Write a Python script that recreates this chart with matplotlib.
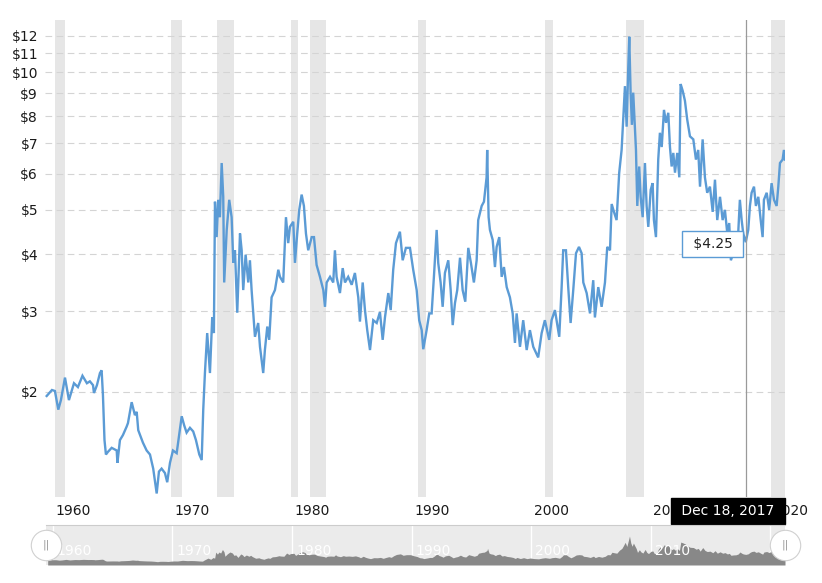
#!/usr/bin/python3
# -*- coding: utf-8 -*-
#
# precio historico del trigo (escala log) con barras de recesion y navegador
#
import matplotlib
matplotlib.use('Agg')
import matplotlib.pyplot as plt
import matplotlib.transforms as mtrans
import numpy as np

#
# datos
#
years = [1959.56, 1960.00, 1960.25, 1960.53, 1960.75, 1961.09, 1961.42, 1961.84, 1962.17, 1962.55,
         1962.92, 1963.17, 1963.43, 1963.51, 1963.76, 1964.01, 1964.15, 1964.26, 1964.39, 1964.51,
         1964.68, 1964.99, 1965.41, 1965.47, 1965.68, 1965.93, 1966.24, 1966.35, 1966.66, 1966.93,
         1967.08, 1967.21, 1967.60, 1967.91, 1968.19, 1968.46, 1968.75, 1968.94, 1969.16, 1969.44,
         1969.63, 1969.86, 1970.11, 1970.42, 1970.84, 1971.05, 1971.25, 1971.53, 1971.80, 1972.03,
         1972.31, 1972.51, 1972.64, 1972.78, 1972.97, 1973.20, 1973.39, 1973.53, 1973.62, 1973.76,
         1973.89, 1974.03, 1974.18, 1974.31, 1974.39, 1974.60, 1974.81, 1975.01, 1975.15, 1975.29,
         1975.48, 1975.71, 1975.85, 1975.98, 1976.18, 1976.40, 1976.54, 1976.68, 1976.96, 1977.23,
         1977.38, 1977.65, 1977.79, 1977.99, 1978.15, 1978.35, 1978.63, 1978.91, 1979.05, 1979.32,
         1979.55, 1979.74, 1979.88, 1980.16, 1980.30, 1980.49, 1980.66, 1980.86, 1981.05, 1981.22,
         1981.41, 1981.70, 1981.89, 1982.11, 1982.39, 1982.67, 1982.81, 1982.95, 1983.23, 1983.50,
         1983.64, 1983.78, 1984.06, 1984.29, 1984.48, 1984.75, 1985.04, 1985.31, 1985.59, 1985.73,
         1985.96, 1986.15, 1986.34, 1986.57, 1986.84, 1987.13, 1987.40, 1987.63, 1987.82, 1988.10,
         1988.30, 1988.51, 1988.74, 1989.07, 1989.30, 1989.57, 1989.91, 1990.18, 1990.47, 1990.68,
         1990.89, 1991.02, 1991.30, 1991.52, 1991.72, 1991.91, 1992.14, 1992.27, 1992.47, 1992.64,
         1992.83, 1993.11, 1993.31, 1993.48, 1993.67, 1993.86, 1994.09, 1994.31, 1994.53, 1994.78,
         1995.00, 1995.25, 1995.48, 1995.61, 1995.90, 1996.09, 1996.31, 1996.36, 1996.48, 1996.59,
         1996.82, 1997.01, 1997.15, 1997.37, 1997.57, 1997.76, 1997.99, 1998.26, 1998.49, 1998.68,
         1998.82, 1999.10, 1999.37, 1999.66, 1999.93, 2000.21, 2000.62, 2000.91, 2001.18, 2001.54,
         2001.74, 2002.02, 2002.38, 2002.58, 2002.71, 2002.94, 2003.13, 2003.33, 2003.55, 2003.78,
         2004.03, 2004.25, 2004.39, 2004.67, 2004.95, 2005.22, 2005.36, 2005.64, 2005.92, 2006.20,
         2006.39, 2006.62, 2006.76, 2006.95, 2007.17, 2007.39, 2007.59, 2007.72, 2007.87, 2008.01,
         2008.14, 2008.23, 2008.34, 2008.45, 2008.56, 2008.70, 2008.79, 2008.90, 2009.06, 2009.18,
         2009.35, 2009.54, 2009.68, 2009.82, 2010.02, 2010.18, 2010.29, 2010.46, 2010.65, 2010.79,
         2010.94, 2011.13, 2011.30, 2011.49, 2011.63, 2011.77, 2011.91, 2012.05, 2012.24, 2012.41,
         2012.52, 2012.69, 2012.88, 2013.07, 2013.30, 2013.58, 2013.80, 2013.99, 2014.14, 2014.36,
         2014.55, 2014.74, 2014.97, 2015.20, 2015.39, 2015.58, 2015.81, 2016.03, 2016.22, 2016.42,
         2016.58, 2016.72, 2016.92, 2017.14, 2017.33, 2017.47, 2017.62, 2017.75, 2017.96, 2018.17,
         2018.31, 2018.45, 2018.65, 2018.81, 2019.01, 2019.21, 2019.37, 2019.48, 2019.71, 2019.92,
         2020.12, 2020.32, 2020.54, 2020.68, 2020.82, 2021.04, 2021.15, 2021.24]
prices = [1.96, 2.02, 2.01, 1.83, 1.92, 2.15, 1.92, 2.09, 2.05, 2.17,
          2.09, 2.11, 2.07, 1.99, 2.07, 2.20, 2.23, 1.97, 1.57, 1.46,
          1.48, 1.51, 1.49, 1.40, 1.57, 1.61, 1.68, 1.71, 1.90, 1.78,
          1.81, 1.65, 1.55, 1.49, 1.46, 1.36, 1.20, 1.34, 1.36, 1.33,
          1.27, 1.40, 1.49, 1.47, 1.77, 1.69, 1.63, 1.67, 1.64, 1.57,
          1.46, 1.42, 1.83, 2.20, 2.69, 2.20, 2.91, 2.69, 5.21, 4.36,
          5.26, 4.82, 6.33, 5.34, 3.47, 4.52, 5.26, 4.82, 3.83, 4.08,
          2.98, 4.44, 4.08, 3.34, 3.99, 3.47, 3.88, 3.34, 2.64, 2.83,
          2.51, 2.20, 2.47, 2.78, 2.60, 3.22, 3.34, 3.70, 3.57, 3.47,
          4.82, 4.23, 4.59, 4.71, 3.83, 4.44, 5.00, 5.40, 5.10, 4.44,
          4.08, 4.36, 4.36, 3.79, 3.57, 3.34, 3.07, 3.47, 3.57, 3.47,
          4.08, 3.57, 3.29, 3.73, 3.47, 3.57, 3.43, 3.64, 3.22, 2.85,
          3.47, 3.02, 2.73, 2.47, 2.87, 2.83, 2.99, 2.60, 2.91, 3.29,
          3.02, 3.70, 4.23, 4.48, 3.88, 4.13, 4.13, 3.70, 3.34, 2.87,
          2.73, 2.48, 2.73, 2.97, 2.97, 3.57, 4.52, 3.83, 3.47, 3.07,
          3.64, 3.88, 3.34, 2.80, 3.13, 3.34, 3.93, 3.34, 3.15, 4.13,
          3.83, 3.47, 3.88, 4.75, 5.10, 5.21, 5.89, 6.76, 4.82, 4.52,
          4.30, 3.75, 4.15, 4.36, 3.57, 3.75, 3.39, 3.22, 2.97, 2.56,
          2.97, 2.51, 2.87, 2.47, 2.73, 2.51, 2.38, 2.69, 2.87, 2.60,
          2.87, 3.02, 2.64, 3.39, 4.08, 4.08, 3.39, 2.83, 3.34, 4.02,
          4.15, 4.02, 3.47, 3.29, 2.97, 3.51, 2.91, 3.39, 3.07, 3.47,
          4.15, 4.08, 5.15, 4.95, 4.75, 6.03, 6.76, 7.88, 9.32, 7.60,
          10.12, 11.95, 9.07, 7.67, 9.02, 7.60, 6.76, 5.10, 6.22, 5.34,
          4.82, 6.33, 5.10, 4.59, 5.53, 5.72, 4.75, 4.36, 6.44, 7.37,
          6.86, 8.27, 7.75, 8.15, 6.86, 6.22, 6.66, 6.03, 6.66, 5.89,
          9.42, 9.11, 8.66, 7.88, 7.24, 7.13, 6.44, 6.76, 5.62, 7.13,
          5.89, 5.45, 5.62, 4.95, 5.82, 4.75, 5.34, 4.75, 5.00, 4.44,
          4.68, 3.88, 4.02, 4.08, 4.44, 5.26, 4.75, 4.44, 4.25, 4.52,
          5.10, 5.45, 5.62, 5.10, 5.34, 4.75, 4.36, 5.26, 5.45, 5.00,
          5.72, 5.26, 5.10, 5.62, 6.33, 6.44, 6.76, 6.44]

# recesiones (inicio, fin) en anios decimales
rec_start = [1960.29, 1969.92, 1973.83, 1980.00, 1981.54, 1990.54, 2001.21, 2007.92, 2020.10]
rec_end   = [1961.13, 1970.88, 1975.21, 1980.54, 1982.88, 1991.21, 2001.88, 2009.46, 2021.30]

ytick_vals = [2, 3, 4, 5, 6, 7, 8, 9, 10, 11, 12]
ytick_labels = ['$' + str(v) for v in ytick_vals]
xtick_vals = [1960, 1970, 1980, 1990, 2000, 2010, 2020]
xtick_labels = [str(v) for v in xtick_vals]

hover_year = 2017.96
hover_price = 4.25
hover_label = 'Dec 18, 2017'

#
# figura
#
W, H = 822, 583
fig = plt.figure(figsize=(W / 100, H / 100), dpi=100)
fig.patch.set_facecolor('white')

LINE = '#5b9bd5'
XMIN, XMAX = 1959.42, 2021.24

# eje principal: x 45..785 px, y 20..497 px
ax = fig.add_axes([45 / W, 1 - 497 / H, 740 / W, 477 / H])
ax.set_yscale('log')
ax.set_xlim(XMIN, XMAX)
ax.set_ylim(1.179, 13.0)

for s, e in zip(rec_start, rec_end):
    ax.axvspan(s, e, color='#e6e6e6', lw=0, zorder=0)

for v in ytick_vals:
    ax.axhline(v, color='#d4d4d4', lw=0.8, ls=(0, (6, 4)), zorder=1)

ax.plot(years, prices, color=LINE, lw=1.7, zorder=3, solid_joinstyle='miter')

for sp in ax.spines.values():
    sp.set_visible(False)

ax.yaxis.set_minor_locator(matplotlib.ticker.NullLocator())
ax.set_yticks(ytick_vals)
ax.set_yticklabels(ytick_labels)
ax.set_xticks(xtick_vals)
ax.set_xticklabels(xtick_labels, ha='left')
ax.tick_params(axis='both', length=0, labelsize=10, labelcolor='#1a1a1a')
ax.tick_params(axis='y', pad=5)
ax.tick_params(axis='x', pad=5)
shift = mtrans.ScaledTranslation(3 / 100, 0, fig.dpi_scale_trans)
for lab in ax.get_xticklabels():
    lab.set_transform(lab.get_transform() + shift)

# linea de seguimiento y tooltips
ax.axvline(hover_year, color='#9a9a9a', lw=0.9, zorder=4)
ax.annotate(' $%.2f ' % hover_price, xy=(hover_year, hover_price), xytext=(-33, -2),
            textcoords='offset pixels', ha='center', va='center', fontsize=10, color='#222',
            bbox=dict(boxstyle='square,pad=0.45', fc='white', ec=LINE, lw=1), zorder=6)
ax.annotate(' ' + hover_label + ' ', xy=(hover_year, 0), xycoords=ax.get_xaxis_transform(),
            xytext=(-18, -14), textcoords='offset pixels', ha='center', va='center',
            fontsize=10, color='white', annotation_clip=False,
            bbox=dict(boxstyle='square,pad=0.45', fc='black', ec='black'), zorder=10)

#
# navegador
#
nav = fig.add_axes([46 / W, 1 - 565 / H, 739 / W, 40 / H])
nav.set_facecolor('#ebebeb')
nav.set_xlim(XMIN, XMAX)
nav.set_ylim(-0.2, 16.6)
nav.fill_between(years, prices, -0.2, color='#888888', lw=0, zorder=2)
for v in xtick_vals:
    nav.axvline(v, color='white', lw=1, zorder=1)
    if v < 2020:
        nav.text(v, 0.18, str(v), transform=mtrans.blended_transform_factory(nav.transData, nav.transAxes),
                 color='white', fontsize=10, ha='left', va='bottom', zorder=3)
for sp in nav.spines.values():
    sp.set_visible(False)
nav.spines['top'].set_visible(True)
nav.spines['top'].set_color('#cccccc')
nav.set_xticks([])
nav.set_yticks([])
for t in nav.texts:
    t.set_transform(t.get_transform() + mtrans.ScaledTranslation(4 / 100, 0, fig.dpi_scale_trans))

# manijas
nav.scatter([0, 1], [0.5, 0.5], s=480, c='white', edgecolors='#d0d0d0', linewidths=0.8,
            transform=nav.transAxes, clip_on=False, zorder=8)
for hx in [0, 1]:
    nav.text(hx, 0.5, '||', transform=nav.transAxes, ha='center', va='center',
             fontsize=8, color='#999999', zorder=9)

fig.savefig('out.png', dpi=100)
